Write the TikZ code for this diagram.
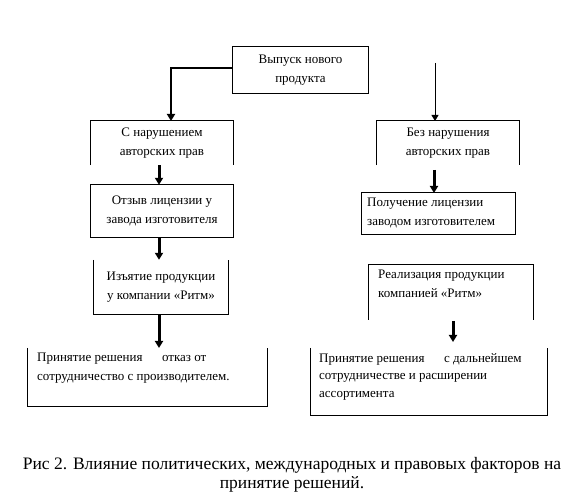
\documentclass[tikz,border=0pt]{standalone}
\usepackage{fontspec}
\setmainfont{Liberation Serif}
\usepackage{tikz}
\usetikzlibrary{arrows.meta, calc, positioning}
\tikzset{
  boxtext/.style={inner sep=0pt, font=\fontsize{13}{18.5}\selectfont},
  leftbox/.style={boxtext, align=left, anchor=north west},
  midbox/.style={boxtext, align=center},
  frame/.style={line width=1pt},
  fat/.style={-{Triangle[width=8pt, length=7pt]}, line width=3pt},
  bold/.style={-{Triangle[width=8pt, length=7pt]}, line width=2.4pt},
  slim/.style={-{Triangle[width=7pt, length=6pt]}, line width=1pt},
  caption/.style={font=\fontsize{17.5}{19.5}\selectfont, align=center},
}
\begin{document}
\begin{tikzpicture}[x=1pt, y=-1pt]
\useasboundingbox (0,0) rectangle (576,494);

% frames as invisible nodes, texts inside
\node[midbox, minimum width=135pt, minimum height=46pt] (top) at (300.5,70) {Выпуск нового\\продукта};
\node[midbox, minimum width=142pt, minimum height=44pt] (viol) at (162,143) {С нарушением\\авторских прав};
\node[midbox, minimum width=142pt, minimum height=52pt] (otzyv) at (162,211) {Отзыв лицензии у\\завода изготовителя};
\node[midbox, minimum width=134pt, minimum height=54pt] (izyat) at (161,287) {Изъятие продукции\\у компании «Ритм»};
\node[midbox, minimum width=142pt, minimum height=44pt] (noviol) at (448,143) {Без нарушения\\авторских прав};

% left-aligned frames
\coordinate (polNW) at (361,193);
\coordinate (polSE) at (515,235);
\coordinate (realNW) at (368,265);
\coordinate (realSE) at (533,320);
\coordinate (otkNW) at (27,348);
\coordinate (otkSE) at (267,407);
\coordinate (dalNW) at (310,348);
\coordinate (dalSE) at (547,416);
\node[leftbox] (poluch) at (367,198) {Получение лицензии\\заводом изготовителем};
\node[leftbox] (realiz) at (378,270) {Реализация продукции\\компанией «Ритм»};
\node[leftbox] (otkaz) at (37,353) {Принятие решения \quad\ отказ от\\сотрудничество с производителем.};
\node[leftbox, font=\fontsize{13}{17.5}\selectfont] (dalnei) at (319,353) {Принятие решения \quad\ с дальнейшем\\сотрудничестве и расширении\\ассортимента};

% borders
\draw[frame] (top.south west) rectangle (top.north east);
\draw[frame] (viol.south west) -- (viol.north west) -- (viol.north east) -- (viol.south east);
\draw[frame] (otzyv.south west) rectangle (otzyv.north east);
\draw[frame] (izyat.north west) -- (izyat.south west) -- (izyat.south east) -- (izyat.north east);
\draw[frame] (noviol.south west) -- (noviol.north west) -- (noviol.north east) -- (noviol.south east);
\draw[frame] (polNW) rectangle (polSE);
\draw[frame] (realSE -| realNW) -- (realNW) -- (realNW -| realSE) -- (realSE);
\draw[frame] (otkNW) -- (otkNW |- otkSE) -- (otkSE) -- (otkSE |- otkNW);
\draw[frame] (dalNW) -- (dalNW |- dalSE) -- (dalSE) -- (dalSE |- dalNW);

% connectors
\coordinate (vin) at (171,121);
\coordinate (rtop) at (435,63);
\coordinate (rin) at (435,121);
\draw[bold] ([yshift=2pt]top.west) -| (vin);
\draw[slim] (rtop) -- (rin);
\draw[fat] ([xshift=-3pt]viol.south) -- ([xshift=-3pt]otzyv.north);
\draw[fat] ([xshift=-3pt]otzyv.south) -- ([xshift=-2pt]izyat.north);
\draw[fat] ([xshift=-2pt]izyat.south) -- ([xshift=-2pt]izyat.south |- otkNW);
\draw[fat] (434,170) -- (434,193);
\draw[fat] (453,321) -- (453,342);

\node[caption] (cap) at (292,475) {Рис 2. Влияние политических, международных и правовых факторов на\\принятие решений.};
\end{tikzpicture}
\end{document}
